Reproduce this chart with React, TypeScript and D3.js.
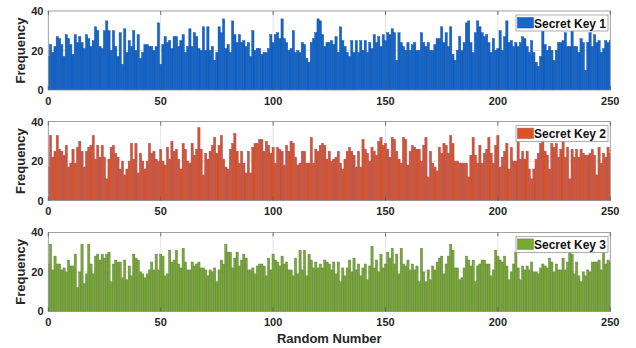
import React, { useEffect, useRef } from 'react';
import * as d3 from 'd3';

// histogram counts for random numbers 0..250
const keys1 = [
  17, 23, 19, 22, 27, 26, 23, 17, 28, 26, 23, 18, 28, 24, 27, 24, 21, 28, 26, 22,
  25, 32, 30, 22, 21, 30, 35, 30, 20, 30, 22, 17, 29, 13, 31, 19, 25, 22, 30, 20,
  28, 16, 19, 23, 23, 22, 22, 20, 22, 34, 13, 23, 27, 24, 25, 21, 27, 27, 22, 25,
  28, 19, 22, 31, 22, 29, 27, 21, 20, 32, 20, 32,
  20, 22, 15, 19, 32, 29, 36, 21, 23, 19, 35, 28, 24, 28, 24, 25, 22, 24, 17, 30,
  20, 21, 21, 18, 19, 19, 21, 28, 24, 28, 29, 26, 36, 26, 24, 20, 21, 30, 19, 20,
  19, 24, 23, 16, 14, 24, 26, 29, 36, 35, 28, 22, 24, 24, 25, 23, 27, 19, 32, 25,
  22, 19, 17, 25, 19, 25, 19, 25, 20, 25, 19, 24, 21, 28, 24, 27, 22, 28, 25, 29,
  28, 31, 29, 15, 29, 24, 22, 20, 24, 20,
  23, 24, 20, 20, 29, 24, 22, 24, 20, 20, 23, 26, 26, 32, 24, 29, 22, 32, 18, 15,
  20, 27, 20, 24, 34, 35, 24, 19, 29, 35, 32, 29, 27, 28, 24, 19, 26, 20, 21, 30,
  20, 27, 35, 24, 25, 22, 24, 22, 24, 27, 26, 22, 19, 25, 19, 14, 12, 17, 30, 23,
  20, 22, 20, 15, 20, 24, 24, 25, 29, 22, 22, 30, 22, 22, 19, 26, 24, 10, 24, 29,
  22, 28, 24, 25, 19, 21, 25, 24, 25,
];

const keys2 = [
  17, 33, 22, 25, 33, 26, 25, 23, 28, 17, 19, 26, 19, 27, 30, 25, 17, 25, 27, 28,
  33, 21, 28, 22, 28, 22, 11, 21, 27, 28, 24, 22, 16, 20, 13, 16, 20, 29, 21, 29,
  14, 24, 20, 16, 20, 29, 24, 25, 21, 20, 26, 20, 18, 27, 21, 30, 25, 26, 21, 16,
  29, 26, 20, 19, 29, 23, 26, 37, 26, 13, 24, 21,
  25, 28, 32, 24, 28, 33, 21, 17, 16, 26, 29, 34, 25, 19, 25, 19, 14, 25, 14, 27,
  29, 29, 31, 31, 25, 30, 28, 24, 27, 19, 27, 26, 25, 18, 28, 25, 30, 29, 22, 18,
  19, 25, 25, 19, 19, 32, 19, 26, 25, 28, 29, 28, 21, 25, 20, 21, 22, 25, 19, 16,
  21, 25, 27, 25, 23, 17, 25, 17, 31, 26, 24, 20, 27, 25, 23, 30, 32, 28, 29, 26,
  22, 32, 31, 25, 21, 19, 32, 31, 18, 25,
  28, 27, 26, 26, 20, 28, 32, 12, 25, 19, 17, 15, 27, 24, 29, 28, 24, 33, 29, 20,
  20, 19, 19, 19, 19, 12, 23, 32, 23, 19, 28, 19, 24, 26, 32, 24, 19, 28, 33, 17,
  22, 25, 29, 16, 27, 20, 20, 30, 21, 25, 21, 25, 16, 11, 16, 21, 24, 29, 30, 25,
  23, 16, 29, 27, 29, 22, 26, 30, 22, 27, 11, 26, 22, 26, 22, 26, 24, 23, 23, 24,
  26, 23, 13, 27, 19, 24, 22, 27, 24,
];

const keys3 = [
  24, 34, 21, 28, 24, 24, 21, 22, 20, 26, 23, 23, 29, 12, 20, 34, 14, 19, 34, 24,
  19, 28, 29, 26, 29, 27, 29, 30, 15, 24, 26, 25, 25, 17, 26, 16, 23, 18, 29, 27,
  26, 20, 19, 17, 19, 21, 25, 21, 29, 21, 29, 28, 18, 19, 31, 25, 26, 31, 24, 22,
  32, 25, 21, 21, 25, 23, 24, 25, 22, 22, 21, 18, 21,
  20, 22, 15, 21, 26, 24, 34, 30, 30, 22, 27, 30, 23, 26, 29, 27, 21, 21, 22, 19,
  23, 24, 24, 23, 18, 27, 21, 29, 26, 25, 23, 28, 24, 25, 21, 21, 18, 27, 19, 31,
  21, 31, 18, 29, 26, 22, 25, 22, 24, 22, 26, 25, 24, 21, 25, 19, 25, 15, 22, 18,
  22, 26, 20, 27, 21, 24, 18, 22, 24, 16, 23, 33, 22, 26, 20, 29, 22, 24, 30, 27,
  32, 24, 29, 19, 32, 24, 23, 26, 21,
  24, 21, 23, 15, 32, 20, 15, 21, 16, 23, 21, 25, 27, 28, 19, 24, 28, 34, 31, 22,
  22, 16, 17, 22, 28, 26, 23, 26, 15, 23, 24, 26, 26, 24, 24, 18, 21, 31, 28, 26,
  25, 28, 23, 16, 20, 24, 30, 22, 16, 23, 21, 23, 21, 25, 20, 20, 19, 22, 24, 23,
  22, 27, 25, 20, 24, 21, 21, 27, 21, 25, 30, 29, 19, 25, 18, 15, 20, 18, 21, 20,
  25, 25, 25, 26, 21, 32, 24, 26, 25,
];

const seriesNames = ['Secret Key 1', 'Secret Key 2', 'Secret Key 3'];
const xTicks = [0, 50, 100, 150, 200, 250];
const yTicks = [0, 20, 40];

const fills = ['#1766c9', '#dc5520', '#78aa32'];
const edges = ['#0c4ea6', '#955080', '#617a4e'];

const W = 636;
const H = 348;
const FONT = 'Liberation Sans, Arial, Helvetica, sans-serif';

const App: React.FC = () => {
  const svgRef = useRef<SVGSVGElement>(null);

  useEffect(() => {
    if (!svgRef.current) return;
    const svg = d3.select(svgRef.current);
    svg.selectAll('*').remove();

    const left = 48.3;
    const right = 610.3;
    const panelH = 79;
    const tops = [11, 121.6, 232.4];
    const data = [keys1, keys2, keys3];

    const x = d3.scaleLinear().domain([0, 250]).range([left, right]);

    data.forEach((vals, p) => {
      const top = tops[p];
      const bottom = top + panelH;
      const y = d3.scaleLinear().domain([0, 40]).range([bottom, top]);
      const g = svg.append('g');

      const clipId = `clip${p}`;
      svg.append('defs').append('clipPath').attr('id', clipId)
        .append('rect').attr('x', left).attr('y', top).attr('width', right - left).attr('height', panelH);

      // grid
      g.append('g')
        .selectAll('line')
        .data(xTicks.slice(1, -1))
        .join('line')
        .attr('x1', d => x(d)).attr('x2', d => x(d))
        .attr('y1', top).attr('y2', bottom)
        .attr('stroke', '#dcdcdc').attr('stroke-width', 0.8);
      g.append('g')
        .selectAll('line')
        .data(yTicks.slice(1, -1))
        .join('line')
        .attr('x1', left).attr('x2', right)
        .attr('y1', d => y(d)).attr('y2', d => y(d))
        .attr('stroke', '#dcdcdc').attr('stroke-width', 0.8);

      // bars
      g.append('g')
        .attr('clip-path', `url(#${clipId})`)
        .selectAll('rect')
        .data(vals)
        .join('rect')
        .attr('x', (_, i) => x(i - 0.5))
        .attr('width', x(1) - x(0))
        .attr('y', d => y(d))
        .attr('height', d => y(0) - y(d))
        .attr('fill', fills[p])
        .attr('stroke', edges[p])
        .attr('stroke-width', 0.45);

      // box
      g.append('rect')
        .attr('x', left).attr('y', top)
        .attr('width', right - left).attr('height', panelH)
        .attr('fill', 'none').attr('stroke', '#8a8a8a').attr('stroke-width', 0.8);

      // ticks (inward)
      xTicks.forEach(t => {
        g.append('line').attr('x1', x(t)).attr('x2', x(t)).attr('y1', top).attr('y2', top + 4)
          .attr('stroke', '#555').attr('stroke-width', 0.8);
        g.append('line').attr('x1', x(t)).attr('x2', x(t)).attr('y1', bottom).attr('y2', bottom - 4)
          .attr('stroke', '#555').attr('stroke-width', 0.8);
      });

      // x tick labels
      g.append('g')
        .attr('font-family', FONT).attr('font-size', 11).attr('font-weight', 'bold')
        .attr('text-anchor', 'middle').attr('fill', '#262626')
        .selectAll('text')
        .data(xTicks)
        .join('text')
        .attr('x', d => x(d))
        .attr('y', bottom + 14.5)
        .text(d => d);

      // y tick labels
      g.append('g')
        .attr('font-family', FONT).attr('font-size', 11).attr('font-weight', 'bold')
        .attr('text-anchor', 'end').attr('fill', '#262626')
        .selectAll('text')
        .data(yTicks)
        .join('text')
        .attr('x', 43.5)
        .attr('y', d => y(d) + 4)
        .text(d => d);

      // y label
      g.append('text')
        .attr('transform', `translate(24.5,${(top + bottom) / 2}) rotate(-90)`)
        .attr('text-anchor', 'middle')
        .attr('font-family', FONT).attr('font-size', 13).attr('font-weight', 'bold')
        .attr('fill', '#262626')
        .text('Frequency');

      // legend
      const lg = g.append('g').attr('transform', `translate(516,${top + 4})`);
      lg.append('rect').attr('width', 92).attr('height', 16)
        .attr('fill', '#fff').attr('stroke', '#9a9a9a').attr('stroke-width', 0.8);
      lg.append('rect').attr('x', 1.5).attr('y', 2.5).attr('width', 16).attr('height', 10.5)
        .attr('fill', fills[p]).attr('stroke', edges[p]).attr('stroke-width', 0.5);
      lg.append('text').attr('x', 18).attr('y', 12.6)
        .attr('font-family', FONT).attr('font-size', 12).attr('font-weight', 'bold')
        .attr('fill', '#111')
        .text(seriesNames[p]);
    });

    // x label
    svg.append('text')
      .attr('x', x(125))
      .attr('y', 342.5)
      .attr('text-anchor', 'middle')
      .attr('font-family', FONT).attr('font-size', 13).attr('font-weight', 'bold')
      .attr('fill', '#262626')
      .text('Random Number');
  }, []);

  return (
    <svg
      ref={svgRef}
      width={W}
      height={H}
      style={{ position: 'absolute', left: 0, top: 0, background: '#fff', display: 'block' }}
    />
  );
};

export default App;
